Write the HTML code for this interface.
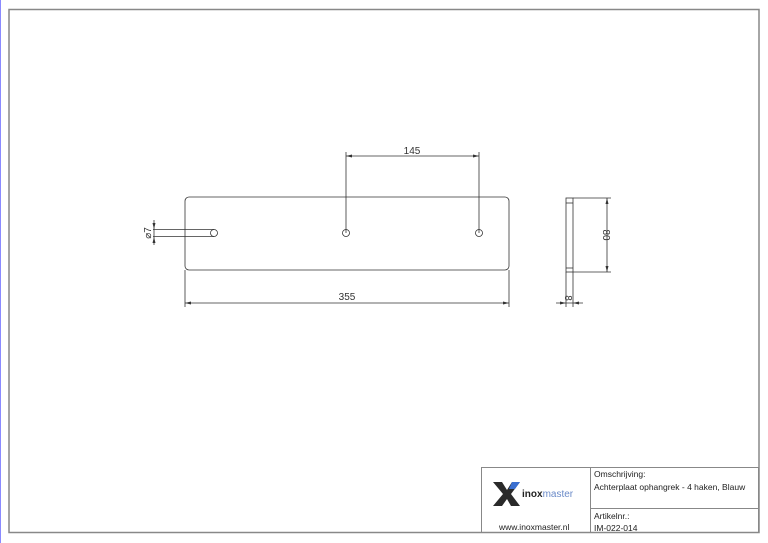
<!DOCTYPE html>
<html><head><style>
body{margin:0;background:#fff;}
svg{display:block;font-family:"Liberation Sans",sans-serif;}
</style></head><body>
<svg width="768" height="543" viewBox="0 0 768 543" xmlns="http://www.w3.org/2000/svg">
<rect x="0" y="0" width="768" height="543" fill="#fff"/>
<line x1="0.5" y1="0" x2="0.5" y2="543" stroke="#8a8aff" stroke-width="1"/>
<rect x="9" y="9.5" width="750" height="523" fill="none" stroke="#888" stroke-width="1.5"/>
<g stroke="#333" stroke-width="0.8" fill="none">
<rect x="185" y="197" width="324" height="73" rx="4"/>
<circle cx="214" cy="233" r="3.5"/>
<circle cx="346" cy="233" r="3.5"/>
<circle cx="479" cy="233" r="3.5"/>
<line x1="153" y1="229.5" x2="214" y2="229.5"/>
<line x1="153" y1="236.5" x2="214" y2="236.5"/>
<line x1="154" y1="220" x2="154" y2="245"/>
<line x1="346" y1="152" x2="346" y2="233"/>
<line x1="479" y1="152" x2="479" y2="233"/>
<line x1="346" y1="156" x2="479" y2="156"/>
<line x1="185" y1="270" x2="185" y2="307"/>
<line x1="509" y1="270" x2="509" y2="307"/>
<line x1="185" y1="303" x2="509" y2="303"/>
<rect x="566" y="198" width="7" height="74"/>
<line x1="566" y1="203" x2="573" y2="203"/>
<line x1="566" y1="268" x2="573" y2="268"/>
<line x1="573" y1="198" x2="611" y2="198"/>
<line x1="573" y1="272" x2="611" y2="272"/>
<line x1="607" y1="198" x2="607" y2="272"/>
<line x1="566" y1="272" x2="566" y2="307"/>
<line x1="573" y1="272" x2="573" y2="307"/>
<line x1="556" y1="303" x2="583" y2="303"/>
</g>
<g fill="#333">
<polygon points="154,229 152.5,223 155.5,223"/>
<polygon points="154,237 152.5,243 155.5,243"/>
<polygon points="346,156 352,154.5 352,157.5"/>
<polygon points="479,156 473,154.5 473,157.5"/>
<polygon points="185,303 191,301.5 191,304.5"/>
<polygon points="509,303 503,301.5 503,304.5"/>
<polygon points="607,198 605.5,204 608.5,204"/>
<polygon points="607,272 605.5,266 608.5,266"/>
<polygon points="566,303 560,301.5 560,304.5"/>
<polygon points="573,303 579,301.5 579,304.5"/>
</g>
<g fill="#333" font-size="10">
<text x="412" y="154" text-anchor="middle">145</text>
<text x="347" y="300" text-anchor="middle">355</text>
<text transform="translate(151,233) rotate(-90)" text-anchor="middle">⌀7</text>
<text transform="translate(603,235) rotate(90)" text-anchor="middle">80</text>
<text transform="translate(565,298) rotate(90)" text-anchor="middle">8</text>
</g>
<g stroke="#888" stroke-width="1" fill="none">
<rect x="481.5" y="467.5" width="277" height="65"/>
<line x1="590.5" y1="467.5" x2="590.5" y2="532.5"/>
<line x1="590.5" y1="508.5" x2="759" y2="508.5"/>
</g>
<polygon points="493,482 502,482 507,490 512,482 520,482 511,494 520,506 511,506 507,499 502,506 493,506 503,494" fill="#2a2a2a"/>
<polygon points="512,482 520,482 515,489 509,489" fill="#3a6fd0"/>
<text x="522" y="497" font-size="10" fill="#222"><tspan font-weight="bold">inox</tspan><tspan fill="#6a8ac8">master</tspan></text>
<g font-size="8.5" fill="#222">
<text x="499" y="530">www.inoxmaster.nl</text>
<text x="594" y="477">Omschrijving:</text>
<text x="594" y="490">Achterplaat ophangrek - 4 haken, Blauw</text>
<text x="594" y="519">Artikelnr.:</text>
<text x="594" y="531">IM-022-014</text>
</g>
</svg>
</body></html>
